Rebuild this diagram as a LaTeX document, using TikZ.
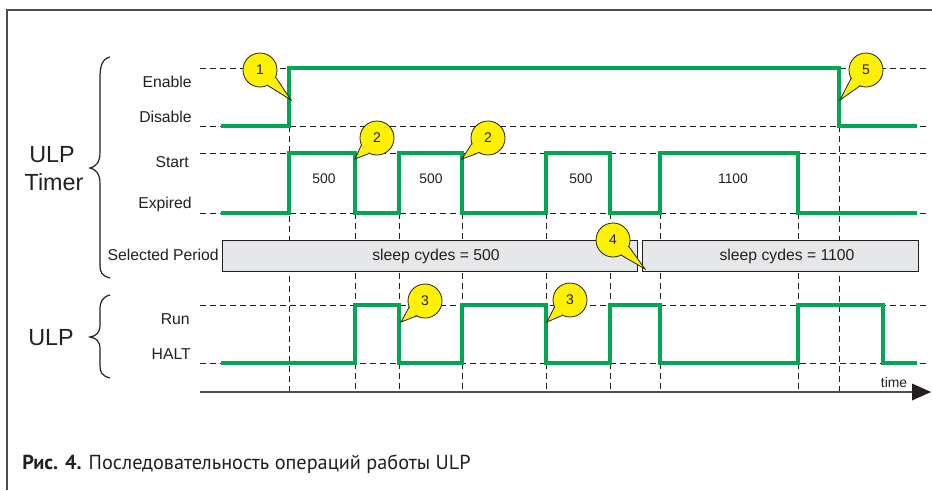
\documentclass[tikz,border=0pt]{standalone}
\usepackage{fontspec}
\setmainfont{Liberation Sans}
\newfontfamily\capfont{PT Sans}
\usetikzlibrary{arrows.meta,calc}
\definecolor{wgreen}{HTML}{00A651}
\definecolor{cyell}{HTML}{FFF200}
\definecolor{barg}{HTML}{E6E7E8}
\definecolor{ink}{HTML}{231F20}
\definecolor{frm}{HTML}{4D4D4D}
\newcommand\mycallout[5]{%
  \node[callout] (#1) at (#2) {#5};
  \fill[cyell] ($(#1)+(#3+20:15.5)$) -- (#4) -- ($(#1)+(#3-20:15.5)$) -- cycle;
  \draw[draw=ink, line width=0.6pt, line join=miter] ($(#1)+(#3+20:17)$) -- (#4) -- ($(#1)+(#3-20:17)$);
}
\begin{document}
\begin{tikzpicture}[x=0.75pt,y=-0.75pt,
  gridline/.style={draw=ink, line width=0.7pt, dash pattern=on 4.5pt off 3pt},
  wave/.style={draw=wgreen, line width=3pt, line join=miter},
  lab/.style={font=\fontsize{11.8}{13}\selectfont, text=ink, inner sep=0pt},
  numlab/.style={font=\fontsize{10.4}{12}\selectfont, text=ink, inner sep=0pt},
  big/.style={font=\fontsize{17.5}{20}\selectfont, text=ink, inner sep=0pt},
  bar/.style={draw=ink, fill=barg, line width=0.9pt},
  brace/.style={draw=ink, line width=0.9pt},
  callout/.style={circle, draw=ink, fill=cyell, line width=0.6pt, minimum size=25.5pt, inner sep=0pt, font=\fontsize{10.5}{12}\selectfont, text=ink},
  axisline/.style={draw=frm, line width=1.1pt}
]
\useasboundingbox (0,0) rectangle (932,490);
% frame
\coordinate (f0) at (7,490); \coordinate (f1) at (7,10); \coordinate (f2) at (932,10);
\draw[frm, line width=1.2pt] (f0) -- (f1) -- (f2);

% horizontal dashed level lines
\foreach \yy in {68,126,153,213,305,363}{
  \draw[gridline] (200,\yy) -- (928,\yy);
}
% vertical dashed lines
\foreach \xx in {289,839}{
  \draw[gridline] (\xx,126) -- (\xx,392);
}
\foreach \xx in {355,399,462,546,610,660,798}{
  \draw[gridline] (\xx,213) -- (\xx,392);
}

% waveforms
\draw[wave] (221,126) -- (289,126) -- (289,68) -- (839,68) -- (839,126) -- (917,126);
\draw[wave] (221,213) -- (289,213) -- (289,153) -- (355,153) -- (355,213) -- (399,213) -- (399,153) -- (462,153) -- (462,213) -- (546,213) -- (546,153) -- (610,153) -- (610,213) -- (660,213) -- (660,153) -- (798,153) -- (798,213) -- (917,213);
\draw[wave] (221,363) -- (355,363) -- (355,305) -- (399,305) -- (399,363) -- (462,363) -- (462,305) -- (546,305) -- (546,363) -- (610,363) -- (610,305) -- (660,305) -- (660,363) -- (798,363) -- (798,305) -- (883,305) -- (883,363) -- (917,363);

% period values
\node[numlab, anchor=base] (p1) at (324,183) {500};
\node[numlab, anchor=base] (p2) at (431,183) {500};
\node[numlab, anchor=base] (p3) at (581,183) {500};
\node[numlab, anchor=base] (p4) at (733,183) {1100};

% selected period bars
\node[bar, anchor=north west, minimum width=311.25pt, minimum height=23.25pt, inner sep=0pt] (bar1) at (222,240) {};
\node[bar, anchor=north west, minimum width=207pt, minimum height=23.25pt, inner sep=0pt] (bar2) at (642,240) {};
\node[lab, anchor=base] (bt1) at (436,260) {sleep cydes = 500};
\node[lab, anchor=base] (bt2) at (787,260) {sleep cydes = 1100};

% axis
\coordinate (ax0) at (200,392); \coordinate (ax1) at (913,392); \coordinate (axt) at (931,392);
\draw[axisline] (ax0) -- (ax1);
\fill[ink] (912,383.5) -- (axt) -- (912,400.5) -- cycle;
\node[numlab, anchor=base] (tm) at (894,387) {time};

% level labels
\node[lab, anchor=base east] (en) at (192,87) {Enable};
\node[lab, anchor=base east] (dis) at (192,122) {Disable};
\node[lab, anchor=base east] (st) at (189,167) {Start};
\node[lab, anchor=base east] (ex) at (192,208) {Expired};
\node[lab, anchor=base east] (sel) at (219,260) {Selected Period};
\node[lab, anchor=base east] (run) at (190,324) {Run};
\node[lab, anchor=base east] (halt) at (191,359) {HALT};

% group labels
\node[big, anchor=base] (g1a) at (52,162) {ULP};
\node[big, anchor=base] (g1b) at (54,190) {Timer};
\node[big, anchor=base] (g2) at (51,345) {ULP};

% braces
\draw[brace] (110,57) .. controls (102,59) and (100,66) .. (100,78) -- (100,152) .. controls (100,162) and (96,167) .. (90,168) .. controls (96,169) and (100,174) .. (100,184) -- (100,266) .. controls (100,272) and (102,276) .. (110,278);
\draw[brace] (110,295) .. controls (102,297) and (100,302) .. (100,310) -- (100,325) .. controls (100,333) and (96,336) .. (90,337) .. controls (96,338) and (100,341) .. (100,349) -- (100,366) .. controls (100,372) and (102,376) .. (110,378);

% callouts
\coordinate (t1) at (291,100);
\coordinate (t2a) at (355,159);
\coordinate (t2b) at (462,159);
\coordinate (t3a) at (401,322);
\coordinate (t3b) at (547,322);
\coordinate (t4) at (645,269);
\coordinate (t5) at (840,100);
\mycallout{c1}{260,70}{44}{t1}{1}
\mycallout{c2a}{377,138}{136}{t2a}{2}
\mycallout{c2b}{488,138}{141}{t2b}{2}
\mycallout{c3a}{425,301}{139}{t3a}{3}
\mycallout{c3b}{570,300}{136}{t3b}{3}
\mycallout{c4}{613,240}{42}{t4}{4}
\mycallout{c5}{866,70}{131}{t5}{5}

% caption
\node[anchor=base west, inner sep=0pt, text=ink] (cap) at (22,469) {\capfont\fontsize{15.2}{17}\selectfont\textbf{Рис. 4.} Последовательность операций работы ULP};
\end{tikzpicture}
\end{document}
